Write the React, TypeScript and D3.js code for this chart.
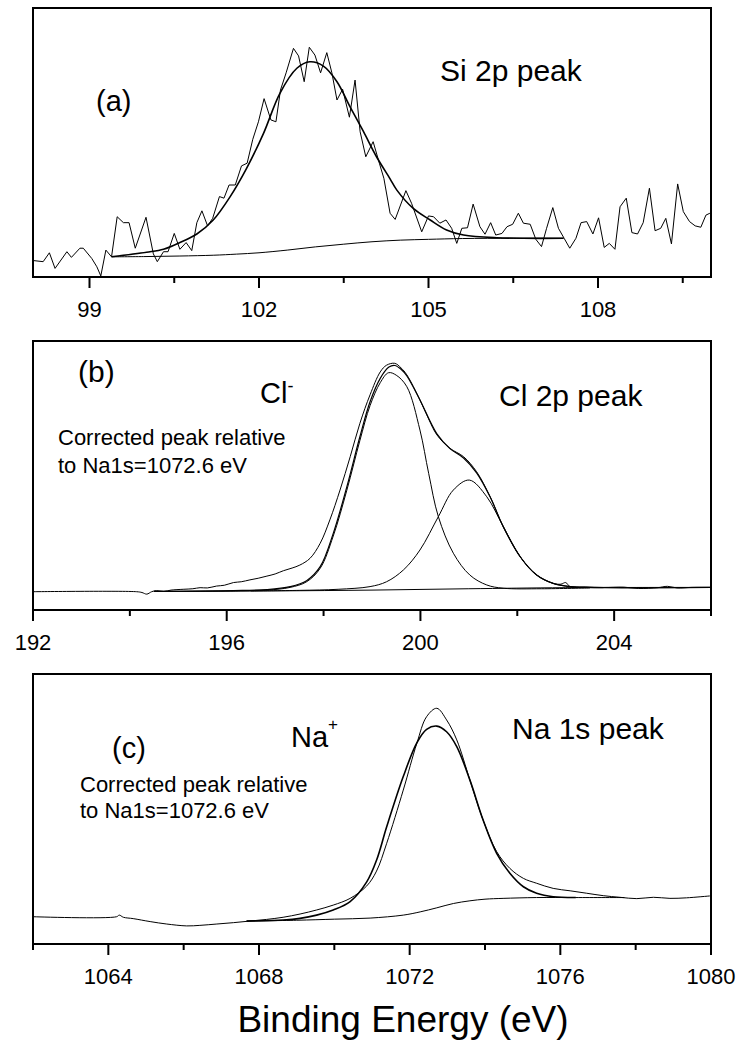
import React from 'react';
import * as d3 from 'd3';

type Pt = [number, number];

// ---------- Panel (a): Si 2p ----------
const siTicksMajor = [99, 102, 105, 108];
const siTicksMinor = [100.5, 103.5, 106.5, 109.5];
const siRaw: Pt[] = [
  [98.01, 6.1], [98.18, 5.7], [98.29, 9.0], [98.39, 3.2], [98.6, 9.4], [98.68, 7.3], [98.83, 10.7], [98.89, 10.7],
  [99.04, 6.9], [99.13, 3.8], [99.2, 0.4], [99.29, 10.0], [99.39, 7.5], [99.49, 22.4], [99.6, 20.2], [99.7, 20.2],
  [99.81, 10.7], [100.0, 22.2], [100.13, 8.6], [100.2, 5.7], [100.31, 9.4], [100.39, 9.4], [100.5, 16.2], [100.6, 10.3],
  [100.71, 12.8], [100.81, 9.8], [100.9, 20.2], [100.99, 24.6], [101.09, 19.0], [101.18, 21.8], [101.3, 29.9], [101.38, 29.3],
  [101.47, 34.2], [101.58, 34.2], [101.69, 41.3], [101.79, 42.3], [101.89, 51.2], [101.99, 57.7], [102.09, 66.3], [102.21, 58.4],
  [102.3, 57.7], [102.38, 69.5], [102.48, 75.9], [102.61, 85.0], [102.7, 82.2], [102.8, 72.6], [102.89, 85.4], [102.99, 82.5],
  [103.09, 75.9], [103.2, 83.4], [103.29, 75.9], [103.38, 65.8], [103.48, 69.8], [103.6, 59.4], [103.7, 73.2], [103.79, 54.0],
  [103.89, 44.7], [104.02, 50.3], [104.13, 42.3], [104.21, 36.7], [104.32, 23.7], [104.41, 21.4], [104.6, 32.1], [104.7, 27.4],
  [104.88, 16.8], [105.0, 22.7], [105.09, 22.4], [105.2, 20.0], [105.31, 21.2], [105.41, 18.1], [105.5, 12.5], [105.59, 18.1],
  [105.69, 18.3], [105.79, 27.1], [105.91, 18.7], [106.0, 15.9], [106.1, 20.2], [106.19, 15.6], [106.3, 16.2], [106.39, 18.7],
  [106.49, 19.6], [106.59, 23.7], [106.68, 20.0], [106.8, 19.6], [106.9, 14.0], [107.0, 11.3], [107.09, 18.1], [107.2, 25.8],
  [107.3, 18.1], [107.4, 14.4], [107.5, 10.7], [107.61, 14.4], [107.7, 20.2], [107.8, 20.6], [107.91, 16.0], [108.01, 22.0],
  [108.11, 11.0], [108.2, 12.5], [108.3, 10.3], [108.39, 26.1], [108.5, 29.3], [108.6, 16.5], [108.7, 16.0], [108.8, 20.2],
  [108.91, 33.0], [109.01, 17.2], [109.11, 18.1], [109.2, 21.8], [109.3, 12.3], [109.41, 34.6], [109.51, 24.3], [109.62, 20.6],
  [109.72, 19.0], [109.82, 18.5], [109.91, 23.0], [109.98, 23.7],
];
const siFit: Pt[] = [
  [99.39, 7.5], [100.01, 9.2], [100.31, 10.3], [100.6, 12.8], [100.9, 16.0], [101.19, 21.2], [101.49, 29.9], [101.78, 40.4],
  [102.08, 53.4], [102.37, 68.3], [102.67, 77.6], [102.9, 80.0], [103.14, 78.4], [103.38, 72.6], [103.61, 63.3], [103.85, 54.0],
  [104.08, 44.7], [104.32, 36.5], [104.44, 32.3], [104.73, 25.5], [105.03, 21.2], [105.32, 17.5], [105.62, 15.6], [106.21, 14.6],
  [107.39, 14.4],
];
const siBg: Pt[] = [
  [99.39, 7.5], [100.0, 7.6], [100.6, 7.8], [101.2, 8.1], [101.6, 8.5], [102.0, 9.0], [102.5, 10.0], [103.0, 11.2],
  [103.5, 12.2], [104.0, 13.1], [104.5, 13.7], [105.0, 14.0], [105.6, 14.3], [106.5, 14.4], [107.39, 14.4],
];

// ---------- Panel (b): Cl 2p ----------
const clTicksMajor = [192, 196, 200, 204];
const clTicksMinor = [194, 198, 202, 206];
const clRaw: Pt[] = [
  [192.0, 6.8], [194.14, 6.8], [194.25, 6.5], [194.35, 5.9], [194.45, 6.8], [194.55, 7.2], [194.7, 6.9], [194.85, 7.4],
  [195.1, 7.7], [195.3, 7.9], [195.45, 8.3], [195.6, 8.2], [195.79, 8.9], [195.95, 9.2], [196.14, 10.2], [196.3, 10.5],
  [196.48, 11.2], [196.65, 11.8], [196.83, 12.6], [197.0, 13.4], [197.17, 14.6], [197.35, 15.6], [197.51, 16.7], [197.72, 19.2],
  [197.93, 24.8], [198.13, 33.5], [198.34, 44.6], [198.55, 57.0], [198.75, 69.4], [198.96, 80.0], [199.17, 88.5], [199.3, 91.0],
  [199.47, 91.7], [199.6, 90.0], [199.72, 87.4], [199.99, 78.1], [200.17, 71.0], [200.34, 65.1], [200.61, 60.1], [200.89, 57.0],
  [201.16, 51.4], [201.44, 42.1], [201.71, 31.0], [202.06, 19.8], [202.4, 13.0], [202.74, 9.9], [202.9, 9.6], [203.0, 10.2],
  [203.09, 8.7], [203.4, 8.6], [203.78, 8.4], [204.2, 8.5], [204.5, 8.0], [204.9, 8.3], [205.1, 8.8], [205.3, 8.2],
  [205.6, 8.4], [205.98, 8.4],
];
const clFit: Pt[] = [
  [194.5, 6.9], [195.5, 7.0], [196.14, 7.2], [196.83, 7.6], [197.31, 8.7], [197.65, 10.9], [197.93, 16.1], [198.2, 28.5],
  [198.48, 45.8], [198.75, 64.4], [198.96, 77.4], [199.17, 86.1], [199.35, 90.3], [199.47, 90.9], [199.6, 89.5], [199.72, 87.0],
  [199.99, 78.1], [200.34, 65.5], [200.61, 60.0], [200.89, 56.5], [201.16, 51.0], [201.44, 42.0], [201.71, 31.0], [202.06, 19.8],
  [202.4, 13.0], [202.74, 9.9], [203.09, 8.7], [203.78, 8.3], [206.0, 8.4],
];
const clComp1: Pt[] = [
  [194.5, 6.9], [196.14, 7.1], [196.83, 7.4], [197.31, 8.4], [197.65, 10.5], [197.93, 15.5], [198.2, 27.5], [198.48, 44.5],
  [198.75, 63.0], [198.96, 76.0], [199.17, 84.5], [199.34, 88.2], [199.5, 87.3], [199.72, 83.0], [199.99, 66.9], [200.17, 50.8],
  [200.37, 34.7], [200.68, 21.1], [201.02, 13.0], [201.37, 9.3], [201.71, 8.1], [202.5, 7.9], [203.5, 8.2],
];
const clComp2: Pt[] = [
  [196.5, 7.1], [197.5, 7.3], [198.3, 7.7], [198.96, 8.7], [199.3, 10.5], [199.65, 14.9], [199.99, 22.3], [200.37, 34.7],
  [200.68, 44.6], [201.01, 48.3], [201.37, 42.1], [201.71, 31.0], [202.06, 19.8], [202.4, 13.0], [202.74, 9.9], [203.09, 8.7],
  [203.78, 8.3],
];
const clBg: Pt[] = [[194.5, 6.9], [197.0, 7.1], [199.0, 7.4], [201.0, 7.9], [203.0, 8.3], [206.0, 8.4]];

// ---------- Panel (c): Na 1s ----------
const naTicksMajor = [1064, 1068, 1072, 1076, 1080];
const naTicksMinor = [1062, 1066, 1070, 1074, 1078];
const naRaw: Pt[] = [
  [1062.0, 10.1], [1064.22, 10.1], [1064.29, 10.7], [1064.4, 9.9], [1064.66, 9.4], [1065.11, 8.3], [1065.55, 7.4], [1066.08, 6.7],
  [1066.43, 6.9], [1066.88, 7.4], [1067.32, 7.9], [1067.76, 8.5], [1068.2, 9.1], [1068.64, 9.9], [1069.09, 11.1], [1069.53, 12.6],
  [1069.97, 14.4], [1070.42, 16.9], [1070.86, 21.5], [1071.12, 27.0], [1071.39, 37.3], [1071.83, 57.0], [1072.19, 74.3], [1072.45, 84.2],
  [1072.72, 87.3], [1072.98, 83.0], [1073.25, 75.6], [1073.6, 60.7], [1073.95, 45.9], [1074.31, 34.2], [1074.66, 28.0], [1075.02, 24.3],
  [1075.37, 22.5], [1075.81, 20.6], [1076.26, 19.7], [1076.7, 18.8], [1077.14, 17.9], [1077.58, 17.3], [1078.03, 16.8], [1078.47, 17.3],
  [1078.91, 16.9], [1079.35, 17.1], [1079.97, 17.8],
];
const naFit: Pt[] = [
  [1067.67, 8.5], [1068.64, 8.9], [1069.09, 9.5], [1069.53, 10.7], [1069.97, 12.6], [1070.42, 15.7], [1070.86, 23.0], [1071.12, 31.0],
  [1071.39, 43.4], [1071.83, 62.0], [1072.19, 74.5], [1072.45, 79.5], [1072.72, 80.7], [1072.98, 78.6], [1073.25, 73.1], [1073.6, 60.7],
  [1073.95, 45.9], [1074.31, 33.6], [1074.66, 26.2], [1075.02, 21.2], [1075.37, 18.8], [1075.81, 17.5], [1076.41, 17.2],
];
const naBg: Pt[] = [
  [1067.67, 8.5], [1069.0, 8.8], [1070.0, 9.2], [1070.95, 9.6], [1071.83, 10.7], [1072.28, 11.9], [1072.72, 13.4], [1073.16, 15.0],
  [1073.6, 16.0], [1074.0, 16.6], [1074.48, 16.9], [1075.37, 17.2], [1076.41, 17.2], [1077.7, 17.2],
];

const FONT = 'Liberation Sans, Arial, Helvetica, sans-serif';
const X0 = 33;
const X1 = 711;

type Curve = { data: Pt[]; width: number; smooth: boolean };

function Panel(props: {
  domain: [number, number];
  top: number;
  bottom: number;
  major: number[];
  minor: number[];
  curves: Curve[];
  id: string;
}) {
  const { domain, top, bottom, major, minor, curves, id } = props;
  const x = d3.scaleLinear().domain(domain).range([X0, X1]);
  const y = d3.scaleLinear().domain([0, 100]).range([bottom, top]);
  const lineSmooth = d3
    .line<Pt>()
    .x((d) => x(d[0]))
    .y((d) => y(d[1]))
    .curve(d3.curveCatmullRom.alpha(0.5));
  const lineRaw = d3
    .line<Pt>()
    .x((d) => x(d[0]))
    .y((d) => y(d[1]));
  return (
    <g>
      <defs>
        <clipPath id={id}>
          <rect x={X0} y={top} width={X1 - X0} height={bottom - top} />
        </clipPath>
      </defs>
      <g clipPath={`url(#${id})`}>
        {curves.map((c, i) => (
          <path
            key={i}
            d={(c.smooth ? lineSmooth : lineRaw)(c.data) || ''}
            fill="none"
            stroke="#000"
            strokeWidth={c.width}
            strokeLinejoin="round"
          />
        ))}
      </g>
      <rect x={X0} y={top} width={X1 - X0} height={bottom - top} fill="none" stroke="#000" strokeWidth={2} />
      {major.map((t) => (
        <line key={'M' + t} x1={x(t)} x2={x(t)} y1={bottom} y2={bottom + 11} stroke="#000" strokeWidth={2} />
      ))}
      {minor.map((t) => (
        <line key={'m' + t} x1={x(t)} x2={x(t)} y1={bottom} y2={bottom + 6} stroke="#000" strokeWidth={2} />
      ))}
      {major.map((t) => (
        <text key={'L' + t} x={x(t)} y={bottom + 40} textAnchor="middle" fontSize={22} fontFamily={FONT} fill="#000">
          {t}
        </text>
      ))}
    </g>
  );
}

export default function App() {
  return (
    <svg
      width={743}
      height={1043}
      viewBox="0 0 743 1043"
      style={{ position: 'absolute', left: 0, top: 0, background: '#fff' }}
    >
      <rect x={0} y={0} width={743} height={1043} fill="#fff" />
      <Panel
        id="clipA"
        domain={[98, 110]}
        top={8}
        bottom={277}
        major={siTicksMajor}
        minor={siTicksMinor}
        curves={[
          { data: siRaw, width: 1, smooth: false },
          { data: siBg, width: 1, smooth: true },
          { data: siFit, width: 1.6, smooth: true },
        ]}
      />
      <Panel
        id="clipB"
        domain={[192, 206]}
        top={341}
        bottom={610}
        major={clTicksMajor}
        minor={clTicksMinor}
        curves={[
          { data: clRaw, width: 1, smooth: true },
          { data: clBg, width: 1, smooth: true },
          { data: clComp1, width: 1, smooth: true },
          { data: clComp2, width: 1, smooth: true },
          { data: clFit, width: 1.2, smooth: true },
        ]}
      />
      <Panel
        id="clipC"
        domain={[1062, 1080]}
        top={674}
        bottom={944}
        major={naTicksMajor}
        minor={naTicksMinor}
        curves={[
          { data: naRaw, width: 1, smooth: true },
          { data: naBg, width: 1, smooth: true },
          { data: naFit, width: 1.6, smooth: true },
        ]}
      />

      <g fontFamily={FONT} fill="#000">
        <text x={96} y={111} fontSize={29}>(a)</text>
        <text x={440} y={81} fontSize={30}>Si 2p peak</text>

        <text x={78} y={382} fontSize={30}>(b)</text>
        <text x={260} y={403} fontSize={29}>
          Cl<tspan fontSize={18} dy={-11}>-</tspan>
        </text>
        <text x={499} y={406} fontSize={30}>Cl 2p peak</text>
        <text x={58} y={445} fontSize={22}>Corrected peak relative</text>
        <text x={58} y={473} fontSize={22}>to Na1s=1072.6 eV</text>

        <text x={112} y={758} fontSize={29}>(c)</text>
        <text x={291} y={747} fontSize={29}>
          Na<tspan fontSize={17} dy={-17}>+</tspan>
        </text>
        <text x={512} y={739} fontSize={30}>Na 1s peak</text>
        <text x={80} y={792} fontSize={22}>Corrected peak relative</text>
        <text x={80} y={818} fontSize={22}>to Na1s=1072.6 eV</text>

        <text x={403} y={1032} fontSize={37} textAnchor="middle">Binding Energy (eV)</text>
      </g>
    </svg>
  );
}
